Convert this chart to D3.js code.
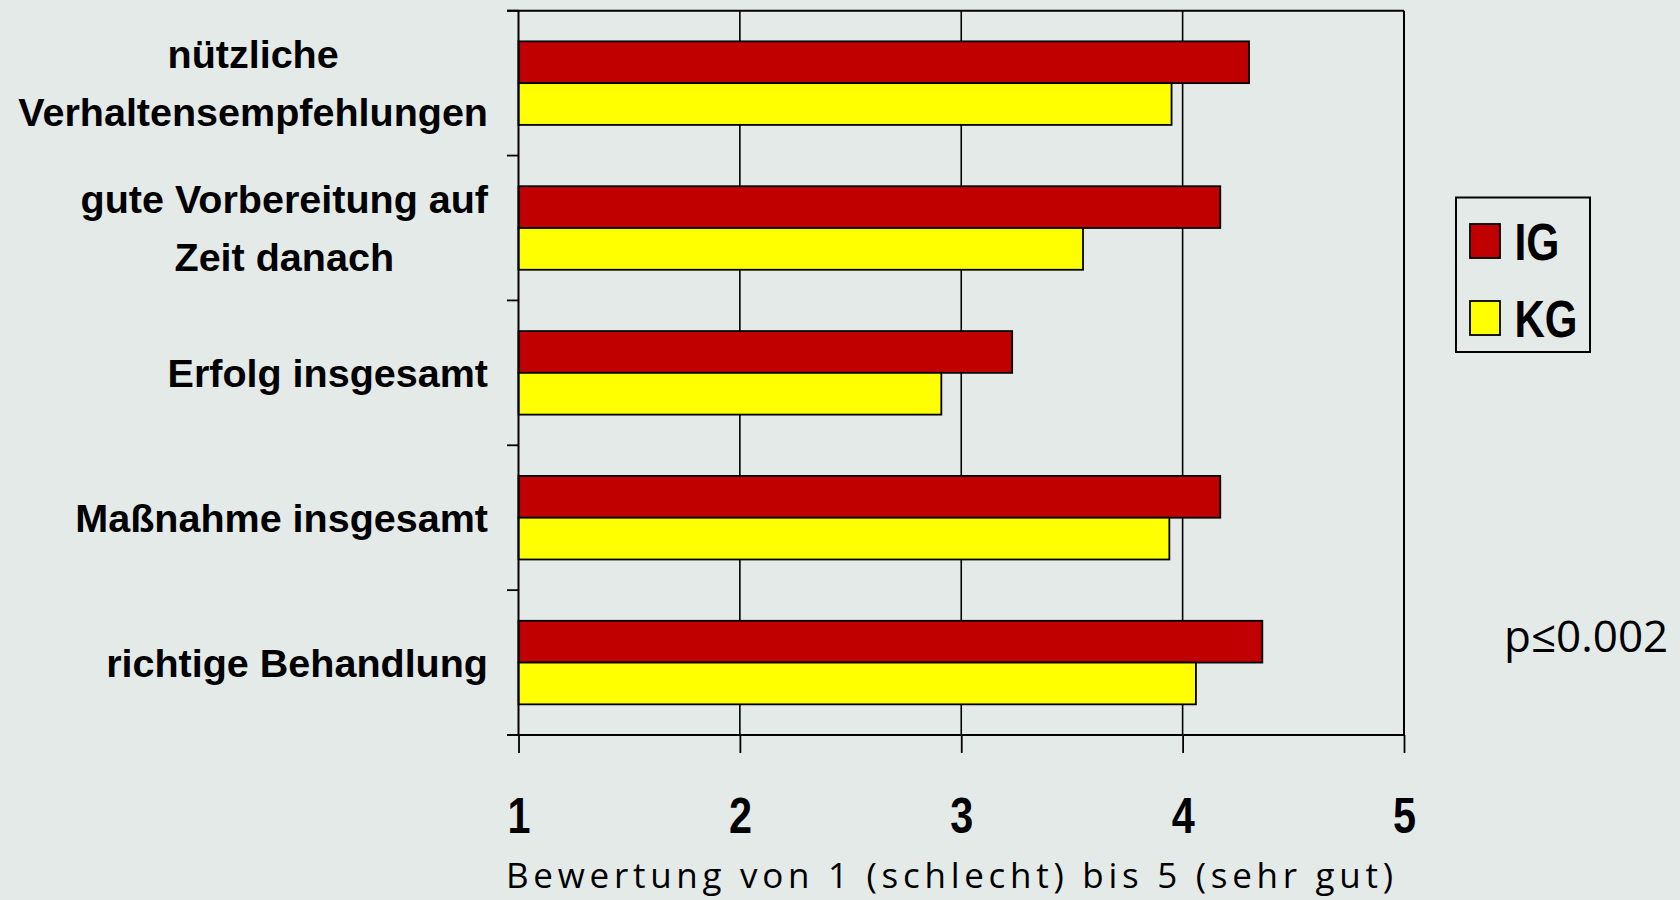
<!DOCTYPE html>
<html>
<head>
<meta charset="utf-8">
<script src="https://cdn.jsdelivr.net/npm/d3@7/dist/d3.min.js"></script>
<style>
  html, body { margin: 0; padding: 0; background: #e4eae8; }
  svg { display: block; }
</style>
</head>
<body>
<svg id="chart" width="1680" height="900"></svg>
<script>
// ---- data ----
const categories = [
  "nützliche Verhaltensempfehlungen",
  "gute Vorbereitung auf Zeit danach",
  "Erfolg insgesamt",
  "Maßnahme insgesamt",
  "richtige Behandlung"
];
const categoryLines = [
  ["nützliche", "Verhaltensempfehlungen"],
  ["gute Vorbereitung auf", "Zeit danach"],
  ["Erfolg insgesamt"],
  ["Maßnahme insgesamt"],
  ["richtige Behandlung"]
];
const seriesNames = ["IG", "KG"];
const igValues = [4.30, 4.17, 3.23, 4.17, 4.36];
const kgValues = [3.95, 3.55, 2.91, 3.94, 4.06];
const xTicks = [1, 2, 3, 4, 5];
const xTitle = "Bewertung von 1 (schlecht) bis 5 (sehr gut)";
const pNote = "p≤0.002";

(function () {
const seriesValues = { IG: igValues, KG: kgValues };
const colors = { IG: "#c00000", KG: "#ffff00" };

// ---- layout ----
const svg = d3.select("#chart");
svg.append("rect").attr("width", 1680).attr("height", 900).attr("fill", "#e4eae8");

const pL = 518.5, pR = 1404, pT = 10.7, pB = 735;
const x = d3.scaleLinear().domain([1, 5]).range([pL, pR]);
const y = d3.scaleBand().domain(categories).range([pT, pB]).paddingInner(0).paddingOuter(0);
const ySub = d3.scaleBand().domain(seriesNames).range([0, y.bandwidth()]).paddingInner(0).paddingOuter(0.734);

const boldFont = "'Liberation Sans', Arial, sans-serif";

// gridlines
svg.append("g").selectAll("line").data(xTicks.filter(d => d > 1 && d < 5)).join("line")
  .attr("x1", d => x(d)).attr("x2", d => x(d))
  .attr("y1", pT).attr("y2", pB)
  .attr("stroke", "#000").attr("stroke-width", 1.6);

// frame top + right
svg.append("line").attr("x1", pL - 11.5).attr("x2", pR).attr("y1", pT).attr("y2", pT)
  .attr("stroke", "#000").attr("stroke-width", 2);
svg.append("line").attr("x1", pR).attr("x2", pR).attr("y1", pT).attr("y2", pB)
  .attr("stroke", "#000").attr("stroke-width", 2);

// bars
const groups = svg.append("g").selectAll("g").data(categories).join("g")
  .attr("transform", d => `translate(0,${y(d)})`);
groups.selectAll("rect").data((d, i) => seriesNames.map(s => ({ s, v: seriesValues[s][i] }))).join("rect")
  .attr("x", x(1))
  .attr("y", d => ySub(d.s))
  .attr("width", d => x(d.v) - x(1))
  .attr("height", ySub.bandwidth())
  .attr("fill", d => colors[d.s])
  .attr("stroke", "#000").attr("stroke-width", 1.8);

// x axis
const xAxis = d3.axisBottom(x).tickValues(xTicks).tickFormat(d3.format("d")).tickSize(18).tickSizeOuter(0);
const gx = svg.append("g").attr("transform", `translate(0,${pB})`).call(xAxis);
gx.select(".domain").attr("stroke", "#000").attr("stroke-width", 2)
  .attr("d", `M${pL - 11.5},0H${pR}`);
gx.selectAll(".tick line").attr("stroke", "#000").attr("stroke-width", 1.8);
gx.selectAll(".tick text")
  .attr("y", 98).attr("dy", 0)
  .attr("fill", "#000")
  .style("font-family", "'Liberation Sans Narrow', " + boldFont)
  .style("font-weight", "bold")
  .style("font-size", "50px");
gx.selectAll(".tick text").each(function () {
  const w = this.getComputedTextLength();
  if (w > 25) d3.select(this).attr("textLength", 23).attr("lengthAdjust", "spacingAndGlyphs");
});

// y axis line + boundary ticks
svg.append("line").attr("x1", pL).attr("x2", pL).attr("y1", pT).attr("y2", pB)
  .attr("stroke", "#000").attr("stroke-width", 2);
const boundaries = categories.map(c => y(c)).concat([y.range()[1]]);
svg.append("g").selectAll("line").data(boundaries).join("line")
  .attr("x1", pL - 11.5).attr("x2", pL)
  .attr("y1", d => d).attr("y2", d => d)
  .attr("stroke", "#000").attr("stroke-width", 1.8);

// category labels
const labelRight = 488, lineH = 57.6;
categories.forEach((c, i) => {
  const lines = categoryLines[i];
  const cy = y(c) + y.bandwidth() / 2;
  const t = svg.append("text")
    .style("font-family", boldFont).style("font-weight", "bold").style("font-size", "39.5px")
    .attr("fill", "#000").attr("text-anchor", "middle");
  const firstBaseline = cy + 14 - (lines.length - 1) * lineH / 2;
  const tsp = t.selectAll("tspan").data(lines).join("tspan")
    .attr("x", 0).attr("y", (d, j) => firstBaseline + j * lineH).text(d => d);
  let maxW = 0;
  tsp.each(function () { maxW = Math.max(maxW, this.getComputedTextLength()); });
  t.attr("transform", `translate(${labelRight - maxW / 2},0)`);
});

// x axis title
svg.append("text").attr("x", 506).attr("y", 888)
  .style("font-family", "'Open Sans', 'Noto Sans', sans-serif").style("font-size", "35px")
  .attr("fill", "#000").text(xTitle)
  .attr("textLength", 887).attr("lengthAdjust", "spacing");

// legend
const lg = svg.append("g");
lg.append("rect").attr("x", 1456).attr("y", 197.5).attr("width", 134).attr("height", 154.5)
  .attr("fill", "none").attr("stroke", "#000").attr("stroke-width", 2);
const legendRows = lg.selectAll("g").data(seriesNames).join("g")
  .attr("transform", (d, i) => `translate(1470,${224 + i * 77})`);
legendRows.append("rect").attr("width", 30).attr("height", 34)
  .attr("fill", d => colors[d]).attr("stroke", "#000").attr("stroke-width", 1.8);
legendRows.append("text").attr("x", 44.5).attr("y", 36)
  .style("font-family", "'Liberation Sans Narrow', " + boldFont)
  .style("font-weight", "bold").style("font-size", "52px")
  .attr("fill", "#000").text(d => d)
  .each(function (d) {
    const w = this.getComputedTextLength();
    const target = d === "IG" ? 45 : 63;
    if (w > target * 1.1) d3.select(this).attr("textLength", target).attr("lengthAdjust", "spacingAndGlyphs");
  });

// p note
svg.append("text").attr("x", 1504).attr("y", 651.5)
  .style("font-family", "'Open Sans', 'Noto Sans', sans-serif").style("font-size", "44px")
  .attr("fill", "#000").text(pNote);
})();
</script>
</body>
</html>
